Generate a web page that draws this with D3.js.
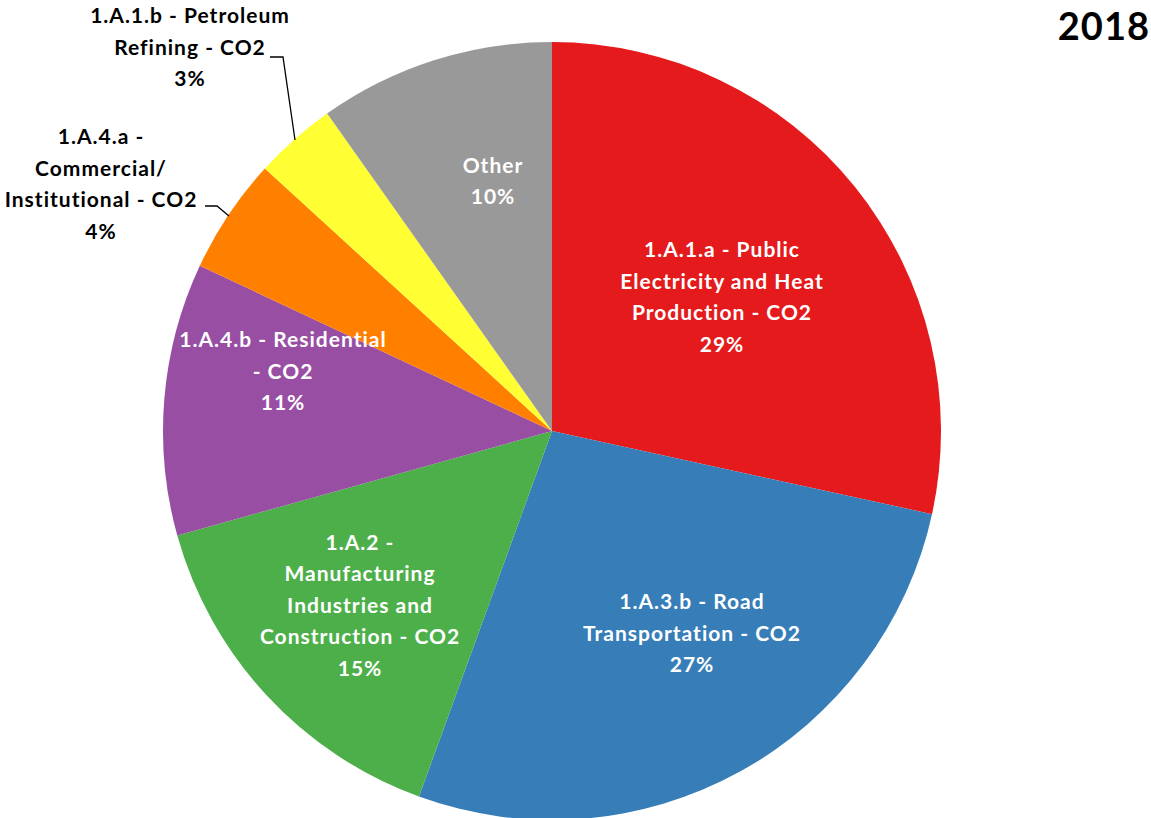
<!DOCTYPE html>
<html>
<head>
<meta charset="utf-8">
<script src="https://cdn.jsdelivr.net/npm/d3@7"></script>
<style>
  body { margin: 0; background: #fff; }
  text { font-family: Lato, "Open Sans", sans-serif; font-weight: bold; letter-spacing: 1px; }
</style>
</head>
<body>
<svg id="chart" width="1151" height="818"></svg>
<script>
// shares of 2018 emissions (clockwise from 12 o'clock)
var categories = [
  "1.A.1.a - Public Electricity and Heat Production - CO2",
  "1.A.3.b - Road Transportation - CO2",
  "1.A.2 - Manufacturing Industries and Construction - CO2",
  "1.A.4.b - Residential - CO2",
  "1.A.4.a - Commercial/ Institutional - CO2",
  "1.A.1.b - Petroleum Refining - CO2",
  "Other"
];
var values = [28.4, 27.1, 15.1, 11.3, 4.8, 3.4, 9.8];
var pctLabels = ["29%", "27%", "15%", "11%", "4%", "3%", "10%"];
var labelLines = [
  ["1.A.1.a - Public", "Electricity and Heat", "Production - CO2"],
  ["1.A.3.b - Road", "Transportation - CO2"],
  ["1.A.2 -", "Manufacturing", "Industries and", "Construction - CO2"],
  ["1.A.4.b - Residential", "- CO2"],
  ["1.A.4.a -", "Commercial/", "Institutional - CO2"],
  ["1.A.1.b - Petroleum", "Refining - CO2"],
  ["Other"]
];
var colors = ["#e41a1c", "#377eb8", "#4daf4a", "#984ea3", "#ff7f00", "#ffff33", "#999999"];

var svg = d3.select("#chart"),
    cx = 552, cy = 431, radius = 389,
    lineH = 31.5;

// label block centres (relative to pie centre) and which ones sit outside
var labelLayout = [
  {x: 170, y: -134, inside: true},
  {x: 140, y: 202, inside: true},
  {x: -192, y: 174, inside: true},
  {x: -269, y: -60, inside: true},
  {x: -451, y: -247, inside: false, leader: [[-347, -225], [-335, -225], [-323, -215]]},
  {x: -362, y: -384, inside: false, leader: [[-282, -374], [-269, -374], [-257, -291]]},
  {x: -59, y: -250, inside: true}
];

var pie = d3.pie().sort(null).value(function(d) { return d; });
var arc = d3.arc().innerRadius(0).outerRadius(radius);

var g = svg.append("g")
    .attr("transform", "translate(" + cx + "," + cy + ")");

var arcs = pie(values);

g.selectAll(".slice")
  .data(arcs)
  .enter().append("path")
    .attr("class", "slice")
    .attr("d", arc)
    .attr("fill", function(d, i) { return colors[i]; });

// leader lines for the two small slices
g.selectAll(".leader")
  .data(labelLayout.filter(function(l) { return l.leader; }))
  .enter().append("path")
    .attr("class", "leader")
    .attr("d", function(l) { return d3.line()(l.leader); })
    .attr("fill", "none")
    .attr("stroke", "#000")
    .attr("stroke-width", 1.3);

var labels = g.selectAll(".label")
  .data(arcs)
  .enter().append("text")
    .attr("class", "label")
    .attr("text-anchor", "middle")
    .attr("font-size", 21)
    .attr("fill", function(d, i) { return labelLayout[i].inside ? "#fff" : "#000"; });

labels.each(function(d, i) {
  var lines = labelLines[i].concat([pctLabels[i]]),
      pos = labelLayout[i],
      top = pos.y - (lines.length - 1) * lineH / 2;
  d3.select(this).selectAll("tspan")
    .data(lines)
    .enter().append("tspan")
      .attr("x", pos.x)
      .attr("y", function(t, j) { return top + j * lineH + 7.5; })
      .text(function(t) { return t; });
});

svg.append("text")
    .attr("x", 1150)
    .attr("y", 40)
    .attr("text-anchor", "end")
    .attr("font-size", 38)
    .text("2018");
</script>
</body>
</html>
